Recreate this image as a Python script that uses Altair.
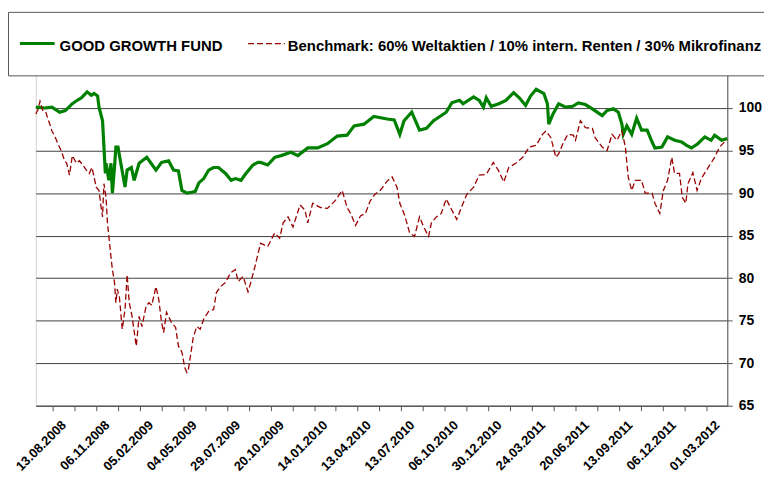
import json
import altair as alt
import pandas as pd

# ---- data (trading-day index on a category-like axis, values indexed) ----
fund_day = [0, 13, 23, 34, 42, 52, 59, 65, 73, 79, 83, 88, 90, 95, 97, 99, 100, 104, 107, 109,
            112, 114, 117, 121, 127, 130, 136, 140, 147, 158, 164, 171, 179, 189, 196, 203, 208,
            215, 222, 227, 232, 239, 246, 253, 260, 270, 278, 284, 292, 299, 309, 316, 320, 330,
            340, 349, 363, 373, 387, 401, 415, 429, 443, 453, 467, 481, 500, 510, 518, 524, 535,
            546, 556, 566, 575, 584, 592, 603, 608, 623, 631, 637, 641, 648, 659, 669, 680, 688,
            697, 704, 712, 723, 728, 730, 736, 744, 754, 764, 772, 782, 792, 806, 813, 822, 829,
            834, 836, 841, 848, 855, 862, 870, 877, 881, 891, 899, 909, 919, 926, 933, 942, 952,
            961, 966, 976, 984]
fund_value = [100.1, 100.0, 100.1, 99.5, 99.7, 100.5, 100.9, 101.2, 101.9, 101.5, 101.7, 101.4,
              100.1, 98.5, 95.4, 92.3, 93.5, 91.5, 93.5, 90.0, 93.0, 95.4, 95.4, 93.5, 90.7, 92.7,
              93.0, 91.5, 93.5, 94.2, 93.5, 92.7, 93.6, 93.8, 92.7, 92.6, 90.3, 90.0, 90.1, 90.2,
              91.2, 91.7, 92.7, 93.0, 93.0, 92.3, 91.5, 91.7, 91.5, 92.3, 93.3, 93.6, 93.6, 93.3,
              94.2, 94.4, 94.8, 94.4, 95.3, 95.3, 95.8, 96.7, 96.8, 97.9, 98.1, 99.0, 98.7, 98.6,
              96.9, 98.5, 99.5, 97.4, 97.6, 98.5, 99.0, 99.5, 100.6, 100.9, 100.5, 101.3, 100.9,
              100.1, 101.2, 100.2, 100.5, 100.9, 101.8, 101.2, 100.3, 101.4, 102.2, 101.7, 100.5,
              98.1, 99.3, 100.5, 100.1, 100.2, 100.6, 100.4, 99.9, 99.1, 99.7, 99.9, 99.5, 98.1,
              96.9, 97.9, 96.9, 98.8, 97.4, 97.4, 96.0, 95.3, 95.4, 96.6, 96.2, 96.0, 95.6, 95.3,
              95.8, 96.6, 96.2, 96.8, 96.2, 96.4]

bench_day = [0, 3, 6, 10, 14, 17, 20, 23, 27, 31, 37, 41, 44, 48, 52, 58, 62, 66, 72, 76, 80,
             86, 90, 93, 95, 97, 100, 102, 104, 107, 109, 112, 114, 116, 119, 123, 127, 130, 133,
             137, 143, 147, 151, 157, 161, 165, 171, 175, 179, 182, 186, 193, 199, 203, 208, 212,
             215, 217, 220, 224, 229, 234, 239, 246, 253, 257, 263, 270, 277, 284, 288, 295, 302,
             306, 312, 316, 320, 330, 340, 347, 352, 359, 366, 376, 383, 387, 394, 405, 415, 426,
             436, 443, 448, 455, 462, 469, 476, 483, 490, 500, 507, 511, 514, 518, 524, 528, 532,
             539, 546, 552, 559, 563, 570, 577, 584, 592, 599, 606, 613, 623, 631, 641, 651, 658,
             666, 673, 683, 693, 702, 712, 721, 726, 733, 740, 744, 750, 757, 765, 768, 775, 782,
             792, 796, 806, 813, 820, 827, 834, 839, 843, 848, 853, 862, 867, 877, 881, 888, 893,
             899, 905, 909, 916, 920, 925, 928, 935, 941, 947, 956, 966, 973, 980, 984]
bench_value = [99.3, 99.8, 100.8, 99.7, 99.6, 98.8, 98.1, 97.3, 96.7, 95.9, 94.8, 93.8, 93.5,
               92.1, 94.4, 93.5, 93.8, 93.4, 92.7, 92.3, 93.0, 90.7, 90.3, 88.3, 87.2, 91.1, 89.5,
               86.5, 84.9, 82.5, 81.0, 79.5, 77.1, 78.7, 77.8, 74.0, 76.3, 80.4, 77.1, 75.5, 72.0,
               75.5, 74.3, 76.7, 77.1, 76.8, 79.0, 77.5, 74.8, 73.6, 76.0, 74.8, 74.2, 72.0, 71.3,
               69.5, 68.9, 69.2, 70.8, 73.0, 74.3, 74.0, 75.2, 76.1, 76.3, 78.3, 79.0, 79.5, 80.6,
               81.0, 79.6, 80.2, 78.4, 79.5, 81.4, 82.8, 84.1, 83.7, 85.3, 84.7, 86.5, 87.2, 86.0,
               88.6, 88.0, 86.5, 88.8, 88.3, 88.2, 89.1, 90.3, 88.3, 87.6, 86.2, 87.3, 87.6, 89.1,
               89.9, 90.3, 91.4, 91.9, 91.2, 90.7, 88.8, 87.6, 86.5, 85.3, 84.9, 87.2, 86.0, 84.9,
               86.5, 87.2, 87.6, 89.3, 88.0, 86.9, 88.4, 89.8, 90.7, 92.1, 92.2, 93.6, 92.7, 91.3,
               93.0, 93.5, 94.2, 95.4, 95.6, 96.9, 97.3, 96.5, 94.2, 94.6, 95.8, 96.9, 96.8, 96.2,
               98.5, 97.7, 97.6, 96.5, 95.4, 95.0, 96.9, 96.2, 97.3, 95.4, 91.9, 90.3, 91.5, 91.5,
               90.0, 90.0, 88.8, 87.6, 90.3, 91.5, 94.2, 92.3, 92.3, 89.5, 88.8, 91.1, 92.4, 90.3,
               91.7, 92.9, 94.2, 95.4, 96.0, 96.2]

tick_labels = ["13.08.2008", "06.11.2008", "05.02.2009", "04.05.2009", "29.07.2009",
               "20.10.2009", "14.01.2010", "13.04.2010", "13.07.2010", "06.10.2010",
               "30.12.2010", "24.03.2011", "20.06.2011", "13.09.2011", "06.12.2011",
               "01.03.2012"]
y_ticks = [65, 70, 75, 80, 85, 90, 95, 100]

fund_name = "GOOD GROWTH FUND"
bench_name = "Benchmark: 60% Weltaktien / 10% intern. Renten / 30% Mikrofinanz"

FONT = "Liberation Sans, Arial, sans-serif"
GREEN = "#008000"
RED = "#990000"

fund_df = pd.DataFrame({"day": fund_day, "value": fund_value})
bench_df = pd.DataFrame({"day": bench_day, "value": bench_value})

tick_values = [24 + 31 * k for k in range(31)]
label_expr = ("(datum.value - 24) % 62 == 0 ? " + json.dumps(tick_labels)
              + "[(datum.value - 24) / 62] : ''")

x_enc = alt.X(
    "day:Q",
    scale=alt.Scale(domain=[0, 984], nice=False, zero=False),
    axis=alt.Axis(
        values=tick_values, labelExpr=label_expr, labelAngle=-45, labelAlign="right",
        labelBaseline="middle", labelOffset=11, labelPadding=12, tickSize=5,
        tickColor="#555555", domainColor="#555555", labelFont=FONT, labelFontSize=13,
        labelFontWeight="bold", labelColor="black", grid=False, title=None,
        labelOverlap=False, labelFlush=False, labelBound=False,
    ),
)
y_enc = alt.Y(
    "value:Q",
    scale=alt.Scale(domain=[65, 105], nice=False, zero=False),
    axis=alt.Axis(
        orient="right", values=y_ticks, grid=True, gridColor="#404040", gridWidth=1,
        domainColor="#555555", tickColor="#555555", tickSize=5, labelPadding=6,
        labelFont=FONT, labelFontSize=14, labelFontWeight="bold", labelColor="black",
        title=None,
    ),
)

fund = alt.Chart(fund_df).mark_line(color=GREEN, strokeWidth=3.2).encode(x=x_enc, y=y_enc)
bench = alt.Chart(bench_df).mark_line(color=RED, strokeWidth=1.3, strokeDash=[6, 3]).encode(
    x=x_enc, y=y_enc)

one = pd.DataFrame({"k": [0]})
legend_box = alt.Chart(one).mark_rect(fill="white", stroke="#555555", strokeWidth=1).encode(
    x=alt.value(-27.5), x2=alt.value(760), y=alt.value(-53.5), y2=alt.value(10.5))
leg_green = alt.Chart(one).mark_rule(color=GREEN, strokeWidth=3).encode(
    x=alt.value(-16), x2=alt.value(19), y=alt.value(-22))
leg_red = alt.Chart(one).mark_rule(color=RED, strokeWidth=1.3, strokeDash=[6, 3]).encode(
    x=alt.value(214), x2=alt.value(251), y=alt.value(-22))
leg_t1 = alt.Chart(one).mark_text(
    text=fund_name, align="left", baseline="alphabetic", font=FONT, fontSize=15,
    fontWeight="bold", color="black").encode(x=alt.value(24), y=alt.value(-15))
leg_t2 = alt.Chart(one).mark_text(
    text=bench_name, align="left", baseline="alphabetic", font=FONT, fontSize=15,
    fontWeight="bold", color="black").encode(x=alt.value(254), y=alt.value(-15))

chart = alt.layer(fund, bench, legend_box, leg_green, leg_red, leg_t1, leg_t2).properties(
    width=697, height=343,
    autosize=alt.AutoSizeParams(type="none"),
    padding={"left": 28, "top": 56, "right": 37, "bottom": 77},
    background="white",
).configure_view(stroke="#d0d0d0", strokeWidth=1)

chart.save("out.html", embed_options={"renderer": "svg", "actions": False})
